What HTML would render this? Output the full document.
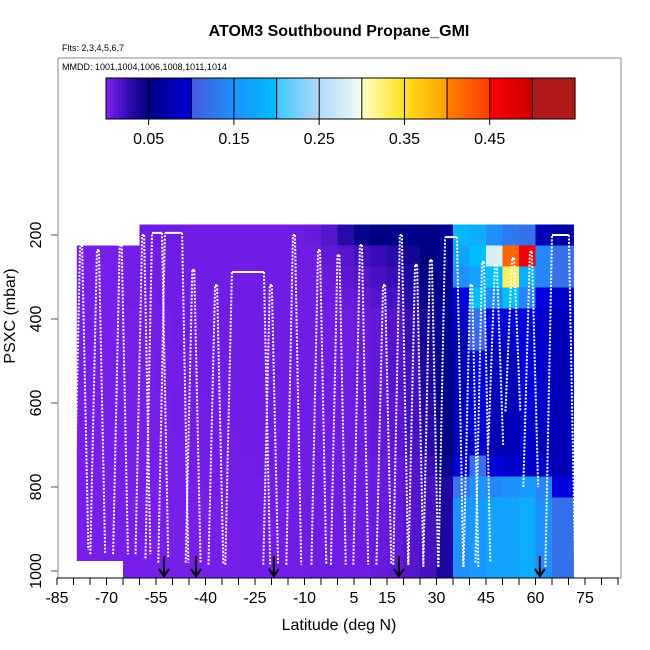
<!DOCTYPE html>
<html><head><meta charset="utf-8"><style>
html,body{margin:0;padding:0;background:#fff;}
svg{display:block;font-family:"Liberation Sans",Arial,sans-serif;}
</style></head><body>
<svg id="chart" width="650" height="650" viewBox="0 0 650 650">
<text x="339" y="36" text-anchor="middle" font-size="16" font-weight="bold">ATOM3 Southbound Propane_GMI</text>
<text x="62" y="51" font-size="9">Flts: 2,3,4,5,6,7</text>
<rect x="58" y="58" width="563" height="520" fill="none" stroke="#888" stroke-width="1"/>
<text x="62" y="70" font-size="9">MMDD: 1001,1004,1006,1008,1011,1014</text>
<g id="cbar"></g>
<g id="cells"></g>
<g id="profiles"></g>
<g id="arrows"></g>
<g id="axes"></g>
<text x="339" y="630" text-anchor="middle" font-size="16">Latitude (deg N)</text>
<text transform="translate(15,316) rotate(-90)" text-anchor="middle" font-size="16">PSXC (mbar)</text>
</svg>
<script>
const N=null;
const colLats=[-80,-75,-70,-65,-60,-55,-50,-45,-40,-35,-30,-25,-20,-15,-10,-5,0,5,10,15,20,25,30,35,40,45,50,55,60,65];
const rowP=[200,250,300,350,400,450,500,550,600,650,700,750,800,850,900,950,1000];
const r200=[N,N,N,N,.006,.006,.006,.005,.005,.005,.005,.005,.005,.006,.008,.015,.03,.045,.05,.055,.055,.055,.06,.19,.18,.15,.13,.12,.08,.07];
const r250=[.003,.003,.003,.004,.005,.005,.005,.005,.005,.005,.005,.005,.005,.005,.006,.01,.015,.02,.025,.03,.04,.05,.06,.17,.2,.28,.42,.46,.14,.12];
const r300=[.003,.003,.003,.004,.005,.005,.005,.005,.005,.005,.005,.005,.005,.005,.006,.008,.012,.015,.02,.025,.035,.05,.06,.15,.17,.2,.33,.18,.14,.12];
const r350=[.003,.003,.003,.004,.004,.005,.005,.005,.005,.005,.005,.005,.005,.005,.005,.006,.008,.01,.015,.02,.03,.045,.06,.1,.2,.15,.2,.14,.1,.09];
const r400=[.003,.003,.003,.003,.004,.004,.005,.005,.005,.005,.005,.005,.005,.005,.005,.005,.006,.008,.01,.015,.025,.04,.06,.09,.12,.1,.1,.1,.09,.08];
const r450=[.003,.003,.003,.003,.004,.004,.005,.005,.005,.005,.005,.005,.005,.005,.005,.005,.006,.008,.01,.015,.025,.04,.06,.08,.11,.09,.09,.1,.09,.08];
const r500=[.003,.003,.003,.003,.003,.004,.004,.005,.005,.005,.005,.005,.005,.005,.005,.005,.006,.008,.01,.015,.02,.035,.055,.08,.1,.08,.08,.1,.09,.08];
const r550=[.003,.003,.003,.003,.003,.004,.004,.005,.005,.005,.005,.005,.005,.005,.005,.005,.006,.008,.01,.015,.02,.035,.055,.08,.1,.08,.08,.1,.09,.08];
const r600=[.003,.003,.003,.003,.003,.003,.004,.004,.005,.005,.005,.005,.005,.005,.005,.005,.006,.008,.01,.012,.02,.03,.05,.08,.1,.08,.08,.1,.09,.08];
const r650=[.003,.003,.003,.003,.003,.003,.004,.004,.004,.005,.005,.005,.005,.005,.005,.005,.006,.007,.01,.012,.02,.03,.05,.08,.1,.08,.08,.09,.09,.08];
const r700=[.003,.003,.003,.003,.003,.003,.003,.004,.004,.004,.005,.005,.005,.005,.005,.005,.006,.007,.01,.012,.018,.03,.05,.08,.09,.08,.08,.09,.08,.08];
const r750=[.003,.003,.003,.003,.003,.003,.003,.004,.004,.004,.004,.005,.005,.005,.005,.005,.005,.006,.008,.01,.015,.025,.045,.1,.12,.1,.09,.09,.09,.08];
const r800=[.003,.003,.003,.003,.003,.003,.003,.003,.004,.004,.004,.004,.005,.005,.005,.005,.005,.006,.008,.01,.015,.02,.035,.12,.15,.14,.15,.16,.14,.1];
const r850=[.003,.003,.003,.003,.003,.003,.003,.003,.003,.004,.004,.004,.004,.005,.005,.005,.005,.006,.008,.01,.015,.02,.035,.15,.16,.17,.17,.18,.15,.12];
const r900=[.003,.003,.003,.003,.003,.003,.003,.003,.003,.003,.004,.004,.004,.005,.005,.005,.005,.006,.008,.01,.015,.02,.035,.15,.16,.17,.17,.18,.15,.12];
const r950=[.003,.003,.003,.003,.003,.003,.003,.003,.003,.003,.004,.004,.004,.005,.005,.005,.005,.006,.008,.01,.015,.02,.035,.15,.16,.17,.17,.18,.15,.12];
const r1000=[N,N,N,.003,.003,.003,.003,.003,.003,.003,.004,.004,.004,.004,.005,.005,.005,.005,.008,.01,.015,.02,.035,.15,.16,.17,.17,.18,.15,.12];
const grid=[r200,r250,r300,r350,r400,r450,r500,r550,r600,r650,r700,r750,r800,r850,r900,r950,r1000];
const xTicks=[-85,-70,-55,-40,-25,-10,5,15,30,45,60,75];
const yTicks=[200,400,600,800,1000];
const cbLabels=[0.05,0.15,0.25,0.35,0.45];
const profLeft=[-78,-72.9,-66,-59.2,-56.2,-52.3,-44,-37.1,-32,-20.5,-13.5,-5.9,0,6.8,13.8,18.9,23.5,28,32.6,40.2,43.8,47.7,52.9,58.3,65];
const profRight=[-78,-72.9,-66,-59.2,-53.8,-47.7,-44,-37.1,-22.9,-20.5,-13.5,-5.9,0,6.8,13.8,18.9,23.5,28,35.6,40.2,43.8,47.7,52.9,58.3,69.5];
const profTop=[224,236,224,200,195,195,283,319,288,319,200,236,248,224,319,200,271,260,205,319,264,271,255,240,200];
const profBottom=[950,960,960,960,970,980,980,985,985,985,985,985,985,985,985,985,985,990,990,990,980,700,620,800,990];
const arrowLats=[-52.6,-42.9,-19.3,18.6,61.3];

const NS="http://www.w3.org/2000/svg";
const X=lat=>57+(lat+85)*3.3;
const Y=p=>235+(p-200)*0.42;
function mk(tag,attrs,parent){const e=document.createElementNS(NS,tag);for(const k in attrs)e.setAttribute(k,attrs[k]);parent.appendChild(e);return e;}
const stops=[[0,[128,32,240]],[0.03,[40,10,170]],[0.05,[0,0,128]],[0.1,[0,0,220]],[0.1001,[70,90,220]],[0.15,[30,144,255]],[0.2,[0,191,255]],[0.2001,[60,200,255]],[0.25,[180,215,250]],[0.3,[240,255,240]],[0.3001,[255,255,200]],[0.35,[255,225,30]],[0.4,[255,160,0]],[0.4001,[255,128,0]],[0.45,[255,60,0]],[0.45001,[255,0,0]],[0.5,[200,0,0]],[0.5001,[175,25,25]],[0.55,[175,25,25]]];
function col(v){v=Math.max(0,Math.min(0.55,v));for(let i=1;i<stops.length;i++){if(v<=stops[i][0]){const a=stops[i-1],b=stops[i];const t=(v-a[0])/(b[0]-a[0]||1);const c=a[1].map((x,j)=>Math.round(x+(b[1][j]-x)*t));return `rgb(${c})`;}}return 'rgb(175,25,25)';}

const cb=document.getElementById('cbar');
const cbX=106,cbW=469,cbY=78,cbH=41;
for(let i=0;i<120;i++){const v=0.55*i/120;
const r=mk('rect',{x:cbX+cbW*i/120,y:cbY,width:cbW/120+0.6,height:cbH,fill:col(v+0.55/240)},cb);

}
mk('rect',{x:cbX,y:cbY,width:cbW,height:cbH,fill:'none',stroke:'#000','stroke-width':1},cb);
for(let k=1;k<11;k++){const x=cbX+cbW*k*0.05/0.55;
const l=mk('line',{x1:x,x2:x,y1:cbY,y2:cbY+cbH+(k%2?6:0),stroke:'#000','stroke-width':1},cb);

}
cbLabels.forEach(v=>{const t=mk('text',{x:cbX+cbW*v/0.55,y:144,'text-anchor':'middle','font-size':16},cb);t.textContent=v.toFixed(2);

});

const cg=document.getElementById('cells');
grid.forEach((row,ri)=>{const p=rowP[ri];const y0=Math.max(220,Y(p-25)),y1=Math.min(578,Y(p+25));
row.forEach((v,ci)=>{if(v===null)return;const l0=colLats[ci];let l1=l0+5;if(ci===colLats.length-1)l1=71.5;let xs=X(l0);if(ci===0)xs=X(-79);
const r=mk('rect',{x:xs,y:y0,width:X(l1)-xs+0.5,height:y1-y0+0.5,fill:col(v)},cg);

});});

const pg=document.getElementById('profiles');
profLeft.forEach((ll,i)=>{const lr=profRight[i],top=profTop[i],bot=profBottom[i];
const up=mk('line',{x1:X(ll-2),y1:Y(bot),x2:X(ll),y2:Y(top),stroke:'#fff','stroke-width':2,'stroke-dasharray':'2 1.5'},pg);


const fl=mk('line',{x1:X(ll),y1:Y(top),x2:X(lr)+2,y2:Y(top),stroke:'#fff','stroke-width':2},pg);


const dn=mk('line',{x1:X(lr)+2,y1:Y(top),x2:X(lr+2.5),y2:Y(bot),stroke:'#fff','stroke-width':2,'stroke-dasharray':'2 1.5'},pg);

});

const ag=document.getElementById('arrows');
arrowLats.forEach(l=>{const x=X(l);
const a=mk('path',{d:`M${x},556 L${x},576 M${x-5},569 L${x},576 L${x+5},569`,stroke:'#000','stroke-width':2,fill:'none'},ag);

});

const ax=document.getElementById('axes');
mk('line',{x1:X(-85),x2:X(85),y1:578,y2:578,stroke:'#000'},ax);
for(let l=-85;l<=85;l+=5){const t=mk('line',{x1:X(l),x2:X(l),y1:578,y2:585,stroke:'#000'},ax);

}
xTicks.forEach(l=>{const t=mk('text',{x:X(l),y:603,'text-anchor':'middle','font-size':16},ax);t.textContent=l;

});
yTicks.forEach(p=>{mk('line',{x1:51,x2:58,y1:Y(p),y2:Y(p),stroke:'#555'},ax);
const t=mk('text',{x:0,y:0,'text-anchor':'middle','font-size':16,transform:`translate(41,${Y(p)}) rotate(-90)`},ax);t.textContent=p;

});
</script>
</body></html>
